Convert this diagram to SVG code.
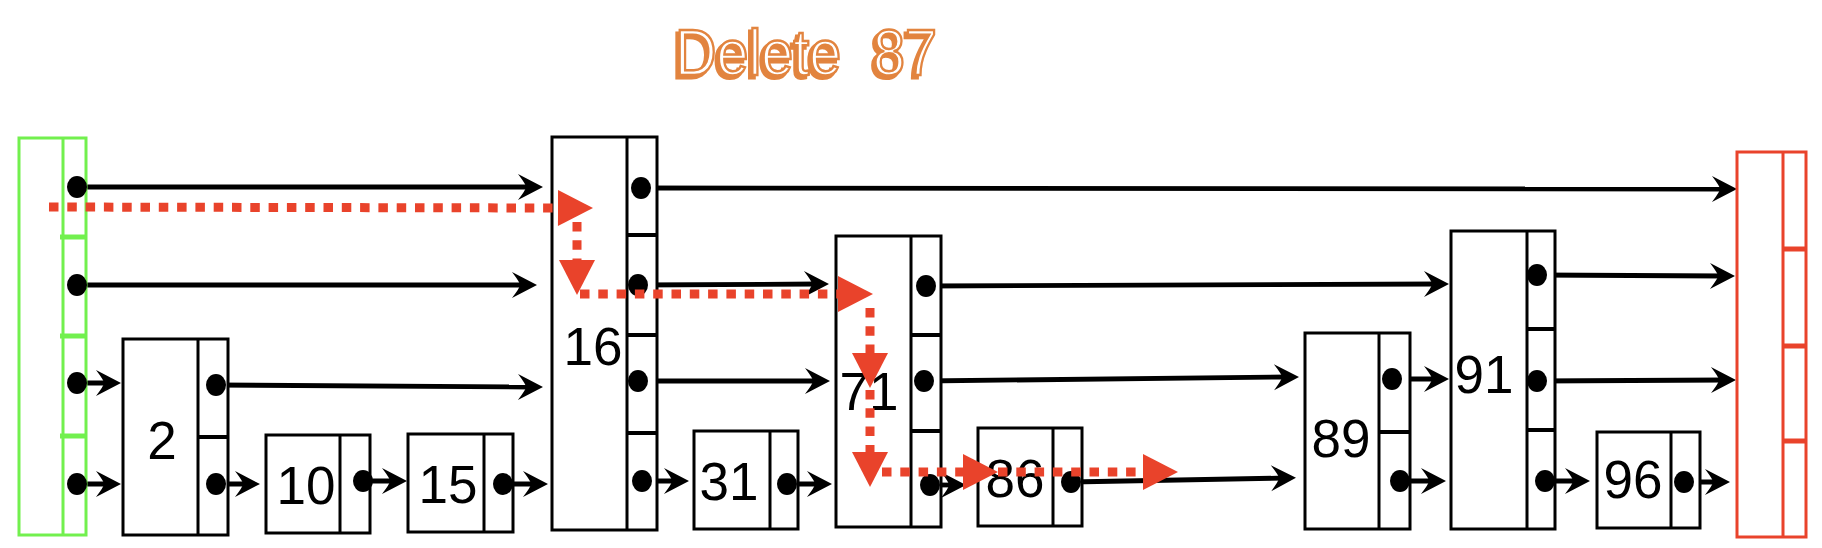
<svg xmlns="http://www.w3.org/2000/svg" width="1822" height="548" viewBox="0 0 1822 548">
<style>
.box{fill:#fff;stroke:#000;stroke-width:3}
.ln{stroke:#000;stroke-width:3}
.sep{stroke:#000;stroke-width:4}
.gbox{fill:#fff;stroke:#72F04E;stroke-width:3}
.gsep{stroke:#72F04E;stroke-width:5}
.rbox{fill:#fff;stroke:#E9432B;stroke-width:3}
.rsep{stroke:#E9432B;stroke-width:5}
.dot{fill:#000}
.num{font-family:"Liberation Sans",Arial,sans-serif;font-size:53px;fill:#000;text-anchor:middle}
.arr{stroke:#000;stroke-width:4.8;fill:none;marker-end:url(#ah)}
.red{stroke:#E9432B;stroke-width:9;fill:none;stroke-dasharray:9.5 8.8;marker-end:url(#rh)}
.title{font-family:"Liberation Sans",Arial,sans-serif;font-size:64px;white-space:pre}
</style>
<defs>
<marker id="ah" markerUnits="userSpaceOnUse" viewBox="-16 -15 30 30" refX="0" refY="0" markerWidth="30" markerHeight="30" orient="auto">
<path d="M11 0 L-14 -13 Q-6 -2.5 -6 0 Q-6 2.5 -14 13 Z" fill="#000"/>
</marker>
<marker id="rh" markerUnits="userSpaceOnUse" viewBox="-2 -20 40 40" refX="0" refY="0" markerWidth="40" markerHeight="40" orient="auto">
<path d="M35 0 L0 -18 L0 18 Z" fill="#E9432B"/>
</marker>
</defs>
<rect width="1822" height="548" fill="#fff"/>

<g id="title">
<text class="title" x="672" y="78" fill="#E2843F" stroke="#E2843F" stroke-width="3" textLength="262" lengthAdjust="spacingAndGlyphs" xml:space="preserve">Delete  87</text>
<text class="title" x="675" y="75" fill="#fff" stroke="#E2843F" stroke-width="2.5" textLength="262" lengthAdjust="spacingAndGlyphs" xml:space="preserve">Delete  87</text>
</g>

<g id="connectors">
<line class="arr" x1="77" y1="187" x2="532" y2="187"/>
<line class="arr" x1="77" y1="285" x2="526" y2="285"/>
<line class="arr" x1="77" y1="383" x2="110" y2="383"/>
<line class="arr" x1="77" y1="484" x2="110" y2="484"/>
<line class="arr" x1="216" y1="385" x2="532" y2="387"/>
<line class="arr" x1="216" y1="484" x2="249" y2="484"/>
<line class="arr" x1="363" y1="481" x2="396" y2="481"/>
<line class="arr" x1="503" y1="484" x2="537" y2="484"/>
<line class="arr" x1="641" y1="188" x2="1726" y2="189"/>
<line class="arr" x1="638" y1="285" x2="818" y2="284"/>
<line class="arr" x1="638" y1="381" x2="819" y2="381"/>
<line class="arr" x1="642" y1="481" x2="678" y2="481"/>
<line class="arr" x1="787" y1="484" x2="821" y2="484"/>
<line class="arr" x1="926" y1="286" x2="1438" y2="284"/>
<line class="arr" x1="924" y1="381" x2="1288" y2="377"/>
<line class="arr" x1="930" y1="485" x2="955" y2="485"/>
<line class="arr" x1="1071" y1="482" x2="1285" y2="478"/>
<line class="arr" x1="1392" y1="379" x2="1438" y2="379"/>
<line class="arr" x1="1400" y1="481" x2="1435" y2="481"/>
<line class="arr" x1="1537" y1="275" x2="1724" y2="276"/>
<line class="arr" x1="1537" y1="381" x2="1725" y2="380"/>
<line class="arr" x1="1545" y1="481" x2="1579" y2="481"/>
<line class="arr" x1="1684" y1="482" x2="1719" y2="482"/>
</g>

<g id="green-head">
<rect class="gbox" x="19" y="138" width="67" height="397"/>
<line class="gbox" x1="63" y1="138" x2="63" y2="535"/>
<line class="gsep" x1="60" y1="237" x2="86" y2="237"/>
<line class="gsep" x1="60" y1="336" x2="86" y2="336"/>
<line class="gsep" x1="60" y1="436" x2="86" y2="436"/>
<ellipse class="dot" cx="77" cy="187" rx="10" ry="11"/>
<ellipse class="dot" cx="77" cy="285" rx="10" ry="11"/>
<ellipse class="dot" cx="77" cy="383" rx="10" ry="11"/>
<ellipse class="dot" cx="77" cy="484" rx="10" ry="11"/>
</g>

<g id="node-2">
<rect class="box" x="123" y="339" width="105" height="196"/>
<line class="ln" x1="198" y1="339" x2="198" y2="535"/>
<line class="sep" x1="198" y1="437" x2="228" y2="437"/>
<text class="num" x="162" y="459">2</text>
<ellipse class="dot" cx="216" cy="385" rx="10" ry="11"/>
<ellipse class="dot" cx="216" cy="484" rx="10" ry="11"/>
</g>

<g id="node-10">
<rect class="box" x="266" y="435" width="104" height="98"/>
<line class="ln" x1="340" y1="435" x2="340" y2="533"/>
<text class="num" x="306" y="504">10</text>
<ellipse class="dot" cx="363" cy="481" rx="10" ry="11"/>
</g>

<g id="node-15">
<rect class="box" x="408" y="434" width="105" height="98"/>
<line class="ln" x1="484" y1="434" x2="484" y2="532"/>
<text class="num" x="448" y="503">15</text>
<ellipse class="dot" cx="503" cy="484" rx="10" ry="11"/>
</g>

<g id="node-16">
<rect class="box" x="552" y="137" width="105" height="393"/>
<line class="ln" x1="627" y1="137" x2="627" y2="530"/>
<line class="sep" x1="627" y1="235" x2="657" y2="235"/>
<line class="sep" x1="627" y1="335" x2="657" y2="335"/>
<line class="sep" x1="627" y1="433" x2="657" y2="433"/>
<text class="num" x="593" y="365">16</text>
<ellipse class="dot" cx="641" cy="188" rx="10" ry="11"/>
<ellipse class="dot" cx="638" cy="285" rx="10" ry="11"/>
<ellipse class="dot" cx="638" cy="381" rx="10" ry="11"/>
<ellipse class="dot" cx="642" cy="481" rx="10" ry="11"/>
</g>

<g id="node-31">
<rect class="box" x="694" y="431" width="104" height="98"/>
<line class="ln" x1="770" y1="431" x2="770" y2="529"/>
<text class="num" x="729" y="500">31</text>
<ellipse class="dot" cx="787" cy="484" rx="10" ry="11"/>
</g>

<g id="node-71">
<rect class="box" x="836" y="236" width="105" height="291"/>
<line class="ln" x1="911" y1="236" x2="911" y2="527"/>
<line class="sep" x1="911" y1="335" x2="941" y2="335"/>
<line class="sep" x1="911" y1="431" x2="941" y2="431"/>
<text class="num" x="869" y="410">71</text>
<ellipse class="dot" cx="926" cy="286" rx="10" ry="11"/>
<ellipse class="dot" cx="924" cy="381" rx="10" ry="11"/>
<ellipse class="dot" cx="930" cy="485" rx="10" ry="11"/>
</g>

<g id="node-86">
<rect class="box" x="978" y="428" width="104" height="98"/>
<line class="ln" x1="1053" y1="428" x2="1053" y2="526"/>
<text class="num" x="1015" y="497">86</text>
<ellipse class="dot" cx="1071" cy="482" rx="10" ry="11"/>
</g>

<g id="node-89">
<rect class="box" x="1305" y="333" width="105" height="196"/>
<line class="ln" x1="1379" y1="333" x2="1379" y2="529"/>
<line class="sep" x1="1379" y1="432" x2="1410" y2="432"/>
<text class="num" x="1341" y="457">89</text>
<ellipse class="dot" cx="1392" cy="379" rx="10" ry="11"/>
<ellipse class="dot" cx="1400" cy="481" rx="10" ry="11"/>
</g>

<g id="node-91">
<rect class="box" x="1451" y="231" width="104" height="298"/>
<line class="ln" x1="1527" y1="231" x2="1527" y2="529"/>
<line class="sep" x1="1527" y1="329" x2="1555" y2="329"/>
<line class="sep" x1="1527" y1="430" x2="1555" y2="430"/>
<text class="num" x="1484" y="393">91</text>
<ellipse class="dot" cx="1537" cy="275" rx="10" ry="11"/>
<ellipse class="dot" cx="1537" cy="381" rx="10" ry="11"/>
<ellipse class="dot" cx="1545" cy="481" rx="10" ry="11"/>
</g>

<g id="node-96">
<rect class="box" x="1597" y="432" width="103" height="96"/>
<line class="ln" x1="1671" y1="432" x2="1671" y2="528"/>
<text class="num" x="1633" y="498">96</text>
<ellipse class="dot" cx="1684" cy="482" rx="10" ry="11"/>
</g>

<g id="red-tail">
<rect class="rbox" x="1737" y="152" width="69" height="385"/>
<line class="rbox" x1="1783" y1="152" x2="1783" y2="537"/>
<line class="rsep" x1="1783" y1="249" x2="1806" y2="249"/>
<line class="rsep" x1="1783" y1="346" x2="1806" y2="346"/>
<line class="rsep" x1="1783" y1="441" x2="1806" y2="441"/>
</g>

<g id="search-path">
<line class="red" x1="49" y1="207" x2="558" y2="208"/>
<line class="red" x1="577" y1="222" x2="577" y2="260"/>
<line class="red" x1="580" y1="294" x2="838" y2="294"/>
<line class="red" x1="870" y1="308" x2="870" y2="353"/>
<line class="red" x1="870" y1="390" x2="870" y2="452"/>
<line class="red" x1="882" y1="472" x2="963" y2="472"/>
<line class="red" x1="998" y1="472" x2="1143" y2="472"/>
</g>
</svg>
